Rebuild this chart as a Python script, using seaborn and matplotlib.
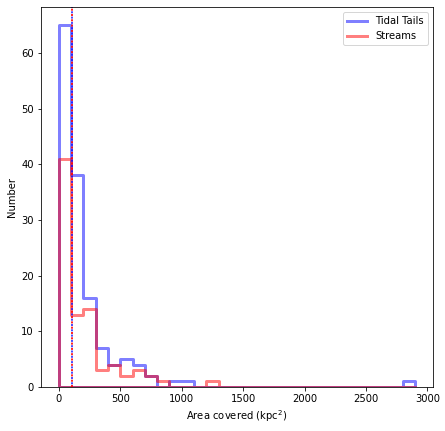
import numpy as np
import pandas as pd
import matplotlib
matplotlib.use("Agg")
import matplotlib.pyplot as plt
import seaborn as sns
from matplotlib.lines import Line2D

bin_edges = list(range(0, 3000, 100))  # 0 .. 2900
tidal_counts = [65, 38, 16, 7, 4, 5, 4, 2, 0, 1, 1, 0, 0, 0, 0, 0, 0, 0, 0, 0,
                0, 0, 0, 0, 0, 0, 0, 0, 1]
stream_counts = [41, 13, 14, 3, 4, 2, 3, 2, 1, 0, 0, 0, 1, 0, 0, 0, 0, 0, 0, 0,
                 0, 0, 0, 0, 0, 0, 0, 0, 0]
tidal_median = 107
stream_median = 107

edges = np.array(bin_edges, dtype=float)
centers = (edges[:-1] + edges[1:]) / 2

df_t = pd.DataFrame({"area": centers, "w": tidal_counts})
df_s = pd.DataFrame({"area": centers, "w": stream_counts})

fig, ax = plt.subplots(figsize=(445 / 72, 431 / 72), dpi=72)
fig.subplots_adjust(left=41 / 445, right=433 / 445, top=1 - 7 / 431, bottom=1 - 387 / 431)

sns.histplot(data=df_t, x="area", weights="w", bins=[float(b) for b in bin_edges],
             element="step", fill=True, color="blue", facecolor="none",
             edgecolor=(0, 0, 1, 0.5), linewidth=3, ax=ax)
sns.histplot(data=df_s, x="area", weights="w", bins=[float(b) for b in bin_edges],
             element="step", fill=True, color="red", facecolor="none",
             edgecolor=(1, 0, 0, 0.5), linewidth=3, ax=ax)

ax.axvline(stream_median, color="red", linestyle=(0, (1, 1.65)), linewidth=2, alpha=0.85)
ax.axvline(tidal_median, color="blue", linestyle=(1.3, (1, 1.65)), linewidth=2, alpha=0.7)

ax.set_xlabel("Area covered (kpc$^2$)")
ax.set_ylabel("Number")
ax.set_ylim(0, 68.25)
ax.set_xlim(-145, 3045)

handles = [Line2D([], [], color="blue", alpha=0.5, linewidth=3),
           Line2D([], [], color="red", alpha=0.5, linewidth=3)]
ax.legend(handles, ["Tidal Tails", "Streams"], loc="upper right")

fig.savefig("out.png", dpi=72)
